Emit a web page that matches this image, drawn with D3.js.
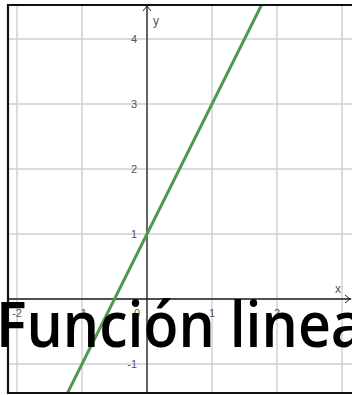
<!DOCTYPE html>
<html>
<head>
<meta charset="utf-8">
<script src="https://cdn.jsdelivr.net/npm/d3@7"></script>
<style>
  html, body { margin: 0; padding: 0; background: #fff; overflow: hidden; }
  svg { display: block; }
</style>
</head>
<body>
<svg id="chart" width="352" height="395"></svg>
<script>
// Values
const gridX = [-2, -1, 0, 1, 2, 3];
const gridY = [-1, 0, 1, 2, 3, 4];
const xTickLabels = [-2, -1, 0, 1, 2];
const yTickLabels = [-1, 1, 2, 3, 4];
// Two points on y = 2x + 1
const lineXs = [-1.5, 2];
const lineYs = [-2, 5];
const title = "Función lineal";

const W = 352, H = 395;
const frame = { left: 8, top: 5, right: 356, bottom: 393 };

const svg = d3.select("#chart");

// One unit = 65 px, origin at (147, 299)
const x = d3.scaleLinear().domain([0, 1]).range([147, 212]);
const y = d3.scaleLinear().domain([0, 1]).range([299, 234]);

const defs = svg.append("defs");
defs.append("clipPath").attr("id", "plot")
  .append("rect")
  .attr("x", frame.left).attr("y", frame.top)
  .attr("width", frame.right - frame.left)
  .attr("height", frame.bottom - frame.top);

const g = svg.append("g").attr("clip-path", "url(#plot)");

// Grid
g.selectAll("line.gx").data(gridX).join("line")
  .attr("x1", d => x(d)).attr("x2", d => x(d))
  .attr("y1", frame.top).attr("y2", frame.bottom)
  .attr("stroke", "#cfcfcf").attr("stroke-width", 1.4);
g.selectAll("line.gy").data(gridY).join("line")
  .attr("y1", d => y(d)).attr("y2", d => y(d))
  .attr("x1", frame.left).attr("x2", frame.right)
  .attr("stroke", "#cfcfcf").attr("stroke-width", 1.4);

// Axes
g.append("line")
  .attr("x1", x(0)).attr("x2", x(0))
  .attr("y1", frame.top).attr("y2", frame.bottom)
  .attr("stroke", "#222").attr("stroke-width", 1.3);
g.append("line")
  .attr("x1", frame.left).attr("x2", 351)
  .attr("y1", y(0)).attr("y2", y(0))
  .attr("stroke", "#222").attr("stroke-width", 1.3);

// Arrow heads
g.append("path")
  .attr("d", `M${x(0) - 4},${frame.top + 6}L${x(0)},${frame.top + 1}L${x(0) + 4},${frame.top + 6}`)
  .attr("fill", "none").attr("stroke", "#222").attr("stroke-width", 1);
g.append("path")
  .attr("d", `M345,${y(0) - 4}L350,${y(0)}L345,${y(0) + 4}`)
  .attr("fill", "none").attr("stroke", "#222").attr("stroke-width", 1);

// Tick labels
const lab = { "font-family": "Liberation Sans, Arial, sans-serif", "font-size": 11, "fill": "#555" };
g.selectAll("text.xt").data(xTickLabels).join("text")
  .attr("x", d => d === 0 ? x(0) - 13 : x(d))
  .attr("y", y(0) + 18)
  .attr("text-anchor", d => d === 0 ? "start" : "middle")
  .attr("font-family", lab["font-family"]).attr("font-size", lab["font-size"]).attr("fill", lab.fill)
  .text(d => d);
g.selectAll("text.yt").data(yTickLabels).join("text")
  .attr("x", x(0) - 10)
  .attr("y", d => y(d) + 4)
  .attr("text-anchor", "end")
  .attr("font-family", lab["font-family"]).attr("font-size", lab["font-size"]).attr("fill", lab.fill)
  .text(d => d);

// Axis names
g.append("text").attr("x", x(0) + 6).attr("y", 25)
  .attr("font-family", lab["font-family"]).attr("font-size", 12).attr("fill", "#555").text("y");
g.append("text").attr("x", 335).attr("y", 293)
  .attr("font-family", lab["font-family"]).attr("font-size", 12).attr("fill", "#555").text("x");

// The function line
const pts = lineXs.map((v, i) => [v, lineYs[i]]);
g.append("path")
  .datum(pts)
  .attr("d", d3.line().x(d => x(d[0])).y(d => y(d[1])))
  .attr("fill", "none")
  .attr("stroke", "#4e9a4e")
  .attr("stroke-width", 3);

// Frame
svg.append("path")
  .attr("d", `M${W + 2},${frame.top}H${frame.left}V${frame.bottom}H${W + 2}`)
  .attr("fill", "none").attr("stroke", "#111").attr("stroke-width", 2.2);

// Title
svg.append("text")
  .attr("x", -4)
  .attr("y", 347)
  .attr("font-family", "Comic Sans MS, Open Sans, sans-serif")
  .attr("font-size", 64)
  .attr("font-weight", 600)
  .attr("fill", "#000")
  .attr("textLength", 384)
  .attr("lengthAdjust", "spacingAndGlyphs")
  .text(title);
</script>
</body>
</html>
